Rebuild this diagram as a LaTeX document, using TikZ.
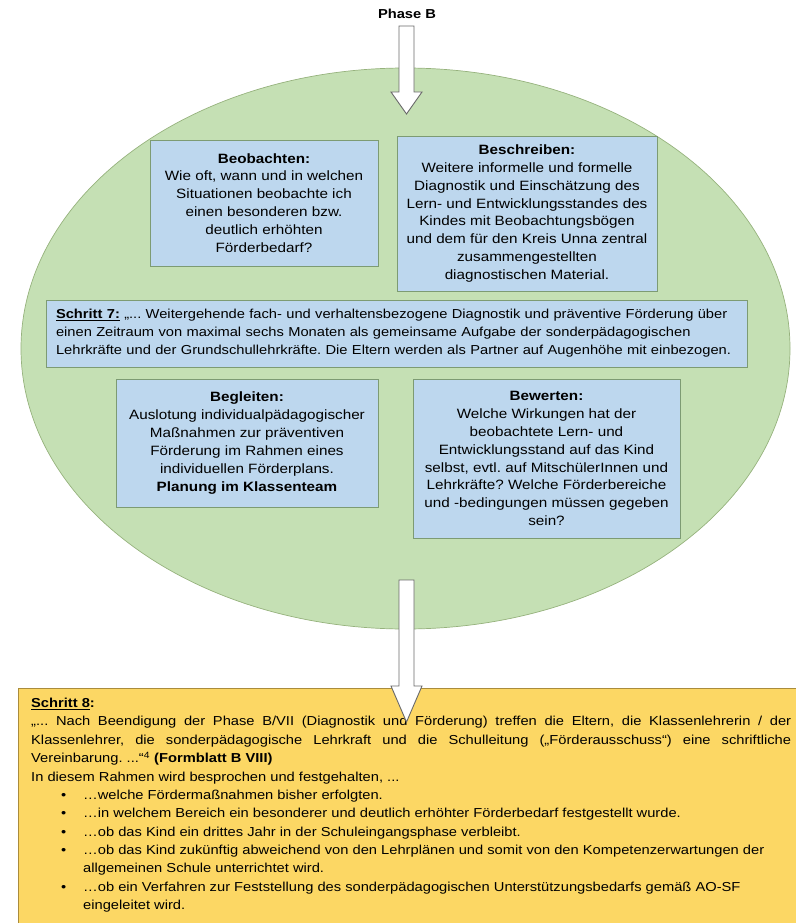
\documentclass[tikz,border=0pt]{standalone}
\usepackage{fontspec}
\setmainfont{Liberation Sans}[FakeStretch=1.13]
\usetikzlibrary{shapes.geometric}
\definecolor{ellfill}{RGB}{197,224,180}
\definecolor{elldraw}{RGB}{150,178,125}
\definecolor{boxfill}{RGB}{189,215,238}
\definecolor{boxdraw}{RGB}{125,155,115}
\definecolor{yelfill}{RGB}{252,215,100}
\definecolor{yeldraw}{RGB}{170,140,60}
\definecolor{arrdraw}{RGB}{105,105,105}
\newcommand\sbul[1]{\par\hangindent=52pt\hangafter=1\noindent\hspace*{30pt}\makebox[22pt][l]{\textbullet}#1}
\frenchspacing
\begin{document}
\begin{tikzpicture}[x=1pt,y=-1pt,
  infobox/.style={draw=boxdraw, fill=boxfill, line width=0.8pt, align=center, inner sep=0pt,
    font=\fontsize{13.5}{17.9}\selectfont},
  blockarrow/.style={draw=arrdraw, fill=white, line width=0.9pt, line join=miter}]
\useasboundingbox (0,0) rectangle (795,923);

% ellipse
\node[ellipse, draw=elldraw, fill=ellfill, line width=0.7pt, minimum width=769pt, minimum height=561pt, inner sep=0pt] (phaseell) at (405.5,348.5) {};

% Phase B label and top arrow
\node[font=\bfseries\fontsize{13}{15}\selectfont, inner sep=0pt] (phase) at (407,13.5) {Phase B};
\draw[blockarrow] (399,26) -- (414,26) -- (414,92) -- (422,92) -- (406.5,114) -- (391,92) -- (399,92) -- cycle;

% boxes
\node[infobox, minimum width=228pt, minimum height=126pt] (beob) at (264,203)
 {\textbf{Beobachten:}\\Wie oft, wann und in welchen\\Situationen beobachte ich\\einen besonderen bzw.\\deutlich erhöhten\\Förderbedarf?};
\node[infobox, minimum width=260pt, minimum height=155pt] (beschr) at (527,213.5)
 {\textbf{Beschreiben:}\\Weitere informelle und formelle\\Diagnostik und Einschätzung des\\Lern- und Entwicklungsstandes des\\Kindes mit Beobachtungsbögen\\und dem für den Kreis Unna zentral\\zusammengestellten\\diagnostischen Material.};
\node[infobox, align=left, text width=681pt, minimum width=701pt, minimum height=67pt, font=\fontsize{13}{18}\selectfont] (schritt7) at (396.5,333.5)
 {\textbf{\underline{Schritt 7:}} „... Weitergehende fach- und verhaltensbezogene Diagnostik und präventive Förderung über\\einen Zeitraum von maximal sechs Monaten als gemeinsame Aufgabe der sonderpädagogischen\\Lehrkräfte und der Grundschullehrkräfte. Die Eltern werden als Partner auf Augenhöhe mit einbezogen.};
\node[infobox, minimum width=262pt, minimum height=128pt] (begl) at (247,443)
 {\textbf{Begleiten:}\\Auslotung individualpädagogischer\\Maßnahmen zur präventiven\\Förderung im Rahmen eines\\individuellen Förderplans.\\\textbf{Planung im Klassenteam}};
\node[infobox, minimum width=267pt, minimum height=159pt] (bew) at (546.5,458.5)
 {\textbf{Bewerten:}\\Welche Wirkungen hat der\\beobachtete Lern- und\\Entwicklungsstand auf das Kind\\selbst, evtl. auf MitschülerInnen und\\Lehrkräfte? Welche Förderbereiche\\und -bedingungen müssen gegeben\\sein?};

% Schritt 8 box
\node[draw=yeldraw, fill=yelfill, line width=0.9pt, anchor=north west, minimum width=800pt, minimum height=260pt, inner sep=0pt] (s8box) at (18,688) {};
\node[anchor=north west, inner sep=0pt, text width=760pt, align=justify, font=\fontsize{13}{18.35}\selectfont] (s8text) at (31,698)
 {\leftskip=0pt\rightskip=0pt\relax\noindent\textbf{\underline{Schritt 8}:}\par
 \noindent„... Nach Beendigung der Phase B/VII (Diagnostik und Förderung) treffen die Eltern, die Klassenlehrerin / der\linebreak Klassenlehrer, die sonderpädagogische Lehrkraft und die Schulleitung („Förderausschuss“) eine schriftliche\linebreak Vereinbarung. ...“\textsuperscript{4} \textbf{(Formblatt B VIII)}\par
 {\raggedright\noindent In diesem Rahmen wird besprochen und festgehalten, ...
 \sbul{…welche Fördermaßnahmen bisher erfolgten.}
 \sbul{…in welchem Bereich ein besonderer und deutlich erhöhter Förderbedarf festgestellt wurde.}
 \sbul{…ob das Kind ein drittes Jahr in der Schuleingangsphase verbleibt.}
 \sbul{…ob das Kind zukünftig abweichend von den Lehrplänen und somit von den Kompetenzerwartungen der\newline allgemeinen Schule unterrichtet wird.}
 \sbul{…ob ein Verfahren zur Feststellung des sonderpädagogischen Unterstützungsbedarfs gemäß AO-SF\newline eingeleitet wird.}\par}};

% bottom arrow
\draw[blockarrow] (399,580) -- (414,580) -- (414,686) -- (422,686) -- (406.5,722) -- (391,686) -- (399,686) -- cycle;
\end{tikzpicture}
\end{document}
